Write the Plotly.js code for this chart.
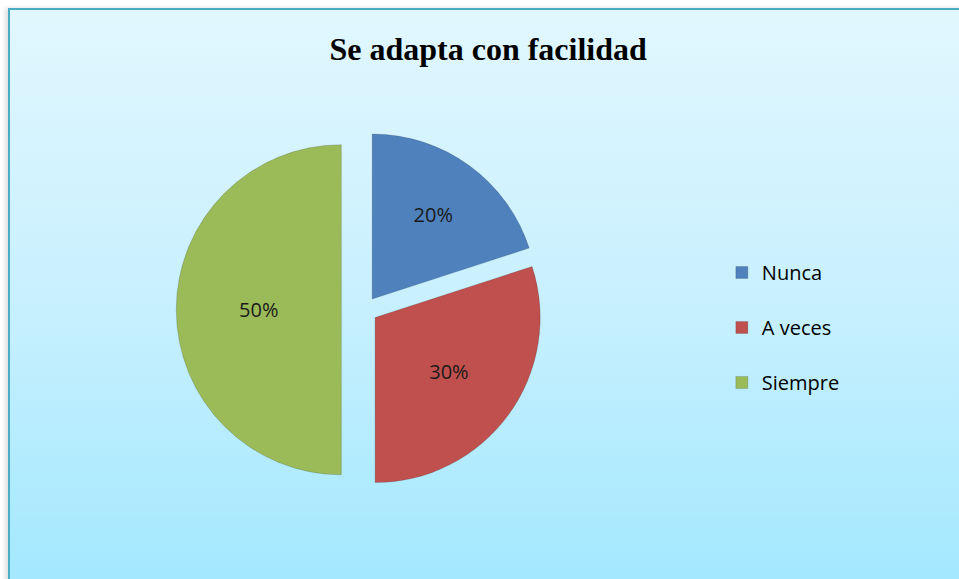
<!DOCTYPE html>
<html>
<head>
<meta charset="utf-8">
<script src="https://cdn.plot.ly/plotly-3.0.1.min.js"></script>
<style>
  html, body { margin: 0; padding: 0; background: #ffffff; }
  #wrap { position: absolute; left: 0; top: 0; width: 959px; height: 579px; overflow: hidden; background: #ffffff; }
  #frame { position: absolute; left: 8px; top: 8px; width: 960px; height: 580px;
           border-left: 2px solid #4BACC6; border-top: 2px solid #4BACC6;
           background: linear-gradient(to bottom, #E1F7FE 0%, #C8F0FE 50%, #A2E8FE 100%);
           box-shadow: -3px 0 4px rgba(0,0,0,0.12); }
  #chart { position: absolute; left: 0; top: 0; width: 959px; height: 579px; }
</style>
</head>
<body>
<div id="wrap">
  <div id="frame"></div>
  <div id="chart"></div>
</div>
<script>
const categories = ["Nunca", "A veces", "Siempre"];
const values = [20, 30, 50];
const colors = ["#4F81BD", "#C0504D", "#9BBB59"];

// legend entries get an empty second line so the entries are spaced like the original
const legendLabels = categories.map(function (c) { return c + "<br>&nbsp;"; });

const trace = {
  type: "pie",
  labels: legendLabels,
  values: values,
  sort: false,
  direction: "clockwise",
  rotation: 0,
  pull: [0.08, 0.08, 0.14],
  marker: { colors: colors, line: { color: "rgba(0,0,0,0.15)", width: 1 } },
  textposition: "inside",
  insidetextorientation: "horizontal",
  texttemplate: "%{percent:.0%}",
  textfont: { family: "Open Sans, Liberation Sans, sans-serif", size: 20, color: "#1a1a1a" },
  domain: { x: [0.18, 0.58], y: [0.14, 0.79] },
  hoverinfo: "percent"
};

const layout = {
  width: 959,
  height: 579,
  paper_bgcolor: "rgba(0,0,0,0)",
  plot_bgcolor: "rgba(0,0,0,0)",
  margin: { l: 0, r: 0, t: 0, b: 0 },
  title: {
    text: "<b>Se adapta con facilidad</b>",
    font: { family: "Liberation Serif, Times New Roman, serif", size: 32, color: "#000000" },
    x: 0.509, xanchor: "center",
    y: 0.915, yanchor: "middle"
  },
  showlegend: true,
  legend: {
    x: 0.7527, xanchor: "left",
    y: 0.412, yanchor: "middle",
    valign: "top",
    font: { family: "Open Sans, Liberation Sans, sans-serif", size: 20, color: "#000000" },
    bgcolor: "rgba(0,0,0,0)",
    traceorder: "normal",
    itemclick: false
  }
};

Plotly.newPlot("chart", [trace], layout, { displayModeBar: false, staticPlot: true });
</script>
</body>
</html>
